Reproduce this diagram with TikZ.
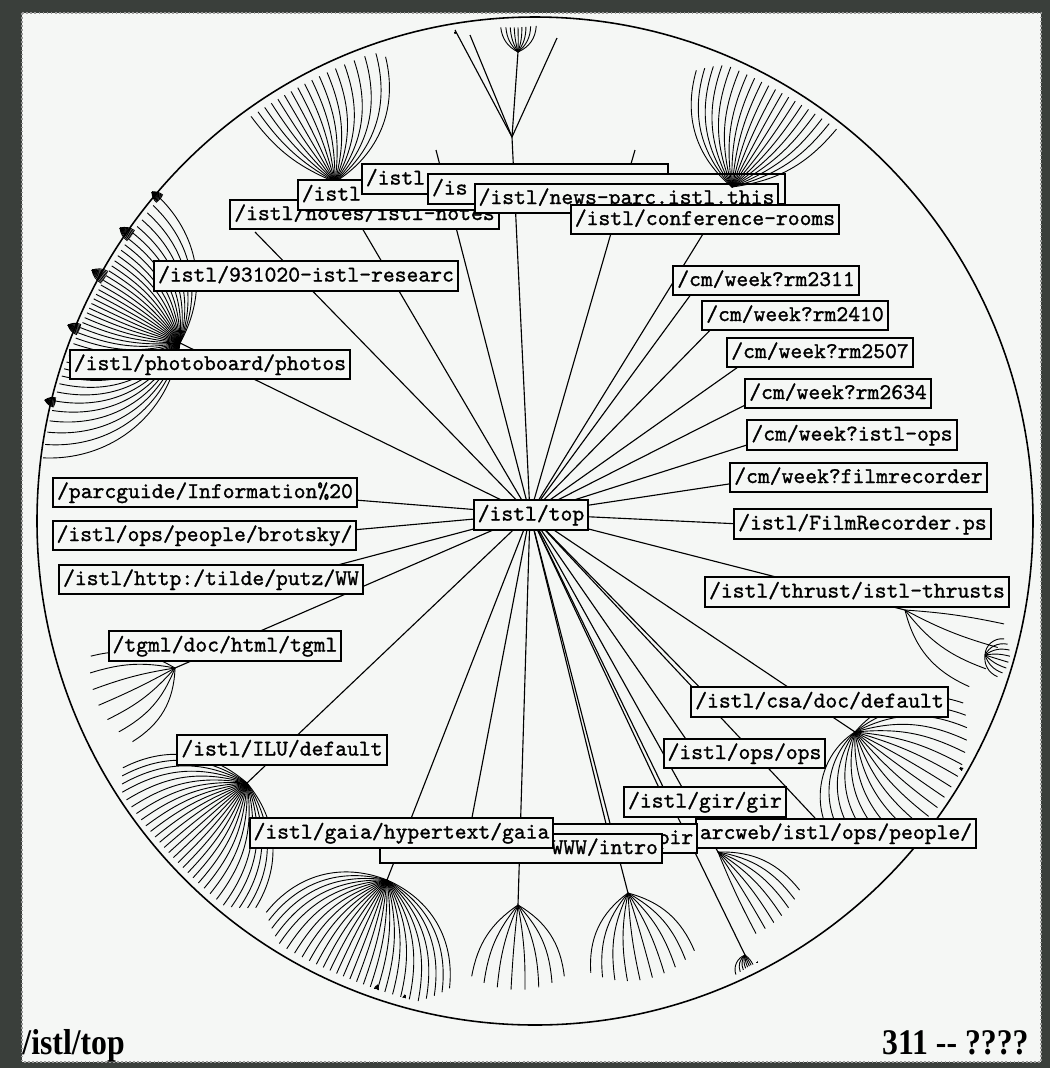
\documentclass[tikz,border=0pt]{standalone}
\usepackage{fontspec}
\newfontfamily\statusfont{Liberation Serif}
\newfontfamily\urlfont{Latin Modern Mono}[FakeBold=1.2]
\usepackage{tikz}

\definecolor{frame}{HTML}{3A3F3B}
\definecolor{panel}{HTML}{F5F7F5}

% one screen pixel
\newcommand{\pxu}{0.0156cm}

\tikzset{
  urlbox/.style={draw, fill=panel, line width=0.9pt, font=\urlfont,
    inner xsep=1.8pt, inner ysep=1.7pt, text height=7.2pt, text depth=2.3pt},
  spoke/.style={line width=0.5pt},
  rib/.style={line width=0.4pt},
}

% fan of ribs bent like geodesics of the disc (centre 535,521, radius 500)
% #1,#2 apex, #3..#4 angles, #5 last index, #6 rib length (cut at the rim)
\newcommand{\fan}[6]{%
  \foreach \k in {0,...,#5}{%
    \pgfmathsetmacro{\ang}{#3+(#4-#3)*\k/#5}%
    \pgfmathsetmacro{\fb}{((#1-535)*cos(\ang)+(#2-521)*sin(\ang))/100}%
    \pgfmathsetmacro{\fc}{((#1-535)/100)*((#1-535)/100)+((#2-521)/100)*((#2-521)/100)-25}%
    \pgfmathsetmacro{\ribl}{min(#6,100*(sqrt(\fb*\fb-\fc)-\fb)-6)}%
    \pgfmathsetmacro{\fx}{#1+\ribl*cos(\ang)}%
    \pgfmathsetmacro{\fy}{#2+\ribl*sin(\ang)}%
    \pgfmathsetmacro{\rbend}{0.9*(mod(atan2(\fy-521,\fx-535)-\ang+540,360)-180)}%
    \draw[rib] (#1,#2) to[bend left=\rbend] (\fx,\fy);
  }}

\begin{document}
\begin{tikzpicture}[x=\pxu, y=-\pxu]
  % window and disc
  \fill[frame] (0,0) rectangle (1050,1068);
  \fill[panel] (22,13) rectangle (1041,1062);
  \draw[gray!80, densely dotted, line width=0.8pt] (22,13) rectangle (1041,1062);
  \coordinate (ctr) at (535,521);
  \draw[line width=0.7pt] (ctr) ellipse [x radius=498, y radius=504];

  % subtrees squeezed towards the rim
  \fan{180}{343}{140}{262}{40}{300}
  \fan{152}{192}{196}{246}{10}{22}
  \fan{120}{228}{190}{240}{10}{22}
  \fan{92}{270}{185}{235}{10}{22}
  \fan{68}{325}{178}{228}{10}{22}
  \fan{45}{400}{169}{219}{10}{22}
  \fan{335}{182}{218}{292}{17}{135}
  \fan{518}{52}{235}{305}{8}{40}
  \fan{455}{32}{235}{285}{8}{18}
  \fan{905}{610}{8}{50}{3}{100}
  \fan{985}{655}{-40}{60}{7}{25}
  \fan{855}{732}{-15}{100}{18}{112}
  \fan{960}{768}{5}{55}{10}{22}
  \fan{718}{852}{25}{65}{6}{90}
  \fan{745}{955}{50}{115}{7}{45}
  \fan{757}{962}{38}{88}{10}{22}
  \fan{518}{905}{57}{123}{7}{85}
  \fan{628}{893}{41}{115}{9}{88}
  \fan{387}{880}{60}{165}{27}{125}
  \fan{405}{995}{81}{131}{8}{16}
  \fan{378}{985}{85}{135}{8}{16}
  \fan{247}{783}{86}{187}{27}{125}
  \fan{175}{668}{120}{188}{6}{85}

  % tree vertices
  \coordinate (hub) at (530,514);
  \coordinate (photo) at (180,343);
  \coordinate (resr) at (255,232);
  \coordinate (tlfan) at (335,182);
  \coordinate (notes) at (436,150);
  \coordinate (tfork) at (512,137);
  \coordinate (conf) at (635,150);
  \coordinate (trfan) at (732,187);
  \coordinate (rma) at (700,282);
  \coordinate (rmb) at (722,318);
  \coordinate (rmc) at (755,355);
  \coordinate (rmd) at (765,395);
  \coordinate (wkops) at (772,437);
  \coordinate (wkfilm) at (762,479);
  \coordinate (filmps) at (762,525);
  \coordinate (thfan) at (905,610);
  \coordinate (csa) at (712,700);
  \coordinate (csafan) at (855,732);
  \coordinate (opsv) at (690,745);
  \coordinate (diag) at (815,818);
  \coordinate (gir) at (660,790);
  \coordinate (pplfan) at (718,852);
  \coordinate (rimfan) at (745,955);
  \coordinate (pir) at (610,840);
  \coordinate (bfanr) at (628,893);
  \coordinate (bfanm) at (518,905);
  \coordinate (gaia) at (470,828);
  \coordinate (bfanl) at (387,880);
  \coordinate (ilu) at (247,783);
  \coordinate (tgml) at (175,668);
  \coordinate (putz) at (300,575);
  \coordinate (brot) at (330,532);
  \coordinate (parc) at (330,498);

  \foreach \v in {photo,resr,tlfan,notes,tfork,conf,trfan,rma,rmb,rmc,rmd,wkops,
      wkfilm,filmps,thfan,csa,csafan,opsv,diag,gir,pplfan,rimfan,pir,bfanr,bfanm,
      gaia,bfanl,ilu,tgml,putz,brot,parc}
    \draw[spoke] (hub) -- (\v);
  \foreach \p in {(455,30),(470,35),(518,52),(557,38)}
    \draw[spoke] (tfork) -- \p;

  % page labels
  \node[urlbox] (lresr) at (306,276) {/istl/931020-istl-researc};
  \node[urlbox] (lphoto) at (210,364.5) {/istl/photoboard/photos};
  \node[urlbox] (lparc) at (205,492.5) {/parcguide/Information\%20};
  \node[urlbox] (lbrot) at (204.5,535.5) {/istl/ops/people/brotsky/};
  \node[urlbox] (lputz) at (211,579.5) {/istl/http:/tilde/putz/WW};
  \node[urlbox] (ltgml) at (225,646) {/tgml/doc/html/tgml};
  \node[urlbox] (lilu) at (282,750) {/istl/ILU/default};

  \node[urlbox] (lnotes) at (364.5,214.5) {/istl/notes/istl-notes};
  \node[urlbox, text width=3.03cm, align=left] (lhidA) at (399,195) {/istl};
  \node[urlbox, text width=4.65cm, align=left] (lhidB) at (515,179) {/istl};
  \node[urlbox, text width=5.44cm, align=left] (lhidC) at (606.5,189) {/is};
  \node[urlbox] (lnews) at (626.5,198.5) {/istl/news-parc.istl.this};
  \node[urlbox] (lconf) at (705,219.5) {/istl/conference-rooms};

  \node[urlbox] (lrma) at (766,280.5) {/cm/week?rm2311};
  \node[urlbox] (lrmb) at (795,315.5) {/cm/week?rm2410};
  \node[urlbox] (lrmc) at (820,352.5) {/cm/week?rm2507};
  \node[urlbox] (lrmd) at (838,393.5) {/cm/week?rm2634};
  \node[urlbox] (lwkops) at (852,435) {/cm/week?istl-ops};
  \node[urlbox] (lwkfilm) at (858.5,477.5) {/cm/week?filmrecorder};
  \node[urlbox] (lfilmps) at (862.5,524) {/istl/FilmRecorder.ps};
  \node[urlbox] (lthrust) at (857,592) {/istl/thrust/istl-thrusts};

  \node[urlbox] (lcsa) at (819.5,702) {/istl/csa/doc/default};
  \node[urlbox] (lops) at (744.5,753.5) {/istl/ops/ops};
  \node[urlbox] (lgir) at (705,802) {/istl/gir/gir};
  \node[urlbox] (lppl) at (836,833.5) {arcweb/istl/ops/people/};
  \node[urlbox, text width=3.42cm, align=right] (lpir) at (583.5,838.5) {pir};
  \node[urlbox, text width=4.27cm, align=right] (lintro) at (521,848.5) {WWW/intro};
  \node[urlbox] (lgaia) at (401.5,833) {/istl/gaia/hypertext/gaia};

  \node[urlbox] (ltop) at (531,515) {/istl/top};

  % this one lies over the news label
  \fan{732}{187}{253}{331}{19}{122}

  % status line
  \node[anchor=base west, inner sep=0, font=\statusfont\bfseries\fontsize{16}{18}\selectfont]
    (where) at (22,1054) {\scalebox{0.88}[1]{/istl/top}};
  \node[anchor=base east, inner sep=0, font=\statusfont\bfseries\fontsize{16}{18}\selectfont]
    (count) at (1029,1054) {\scalebox{0.88}[1]{311 {-}{-} ????}};
\end{tikzpicture}
\end{document}
